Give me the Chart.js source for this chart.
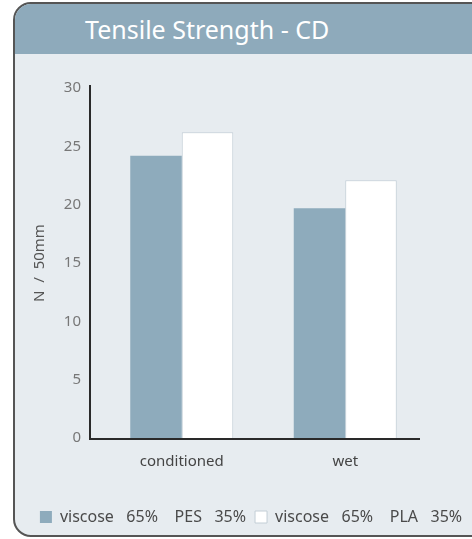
<!DOCTYPE html>
<html>
<head>
<meta charset="utf-8">
<script src="https://cdn.jsdelivr.net/npm/chart.js@4.4.1/dist/chart.umd.min.js"></script>
<style>
  html, body { margin: 0; padding: 0; background: #fff; overflow: hidden; width: 472px; height: 539px; }
  .card {
    position: absolute; left: 13px; top: 2px; width: 480px; height: 531px;
    border: 2px solid #555; border-radius: 18px; background: #e7ecf0; overflow: hidden;
  }
  .card h1 {
    margin: 0; height: 50px; background: #8eaabb; color: #fff;
    font: 400 25px "Noto Sans", sans-serif; line-height: 50px; padding-left: 70px;
  }
  .wrap { position: absolute; left: 0; top: 52px; width: 472px; height: 479px; }
</style>
</head>
<body>
<div class="card">
  <h1>Tensile Strength - CD</h1>
  <div class="wrap"><canvas id="chart"></canvas></div>
</div>
<script>
  // dados
  const categories = ['conditioned', 'wet'];
  const pesValues = [24.2, 19.7];
  const plaValues = [26.2, 22.1];
  const seriesNames = ['viscose   65%    PES   35%', 'viscose   65%    PLA   35%'];
  const yTicks = [0, 5, 10, 15, 20, 25, 30];

  // linhas dos eixos, deslocadas como no original
  const axisLines = {
    id: 'axisLines',
    afterDraw(chart) {
      const { ctx, chartArea } = chart;
      const x0 = chartArea.left - 10;
      ctx.save();
      ctx.strokeStyle = '#2a2a2a';
      ctx.lineWidth = 2;
      ctx.beginPath();
      ctx.moveTo(x0, chartArea.top - 3);
      ctx.lineTo(x0, chartArea.bottom + 1);
      ctx.lineTo(chartArea.right - 7, chartArea.bottom + 1);
      ctx.stroke();
      ctx.restore();
    }
  };

  const ctx = document.getElementById('chart').getContext('2d');
  new Chart(ctx, {
    type: 'bar',
    data: {
      labels: categories,
      datasets: [{
        label: seriesNames[0],
        data: pesValues,
        backgroundColor: '#8eabbc',
        borderWidth: 0
      }, {
        label: seriesNames[1],
        data: plaValues,
        backgroundColor: '#ffffff',
        borderColor: '#c3ced6',
        borderWidth: 1
      }]
    },
    options: {
      responsive: true,
      maintainAspectRatio: false,
      animation: false,
      datasets: {
        bar: { barPercentage: 1, categoryPercentage: 0.63 }
      },
      layout: { padding: { top: 32, bottom: 0 } },
      plugins: {
        legend: {
          position: 'bottom',
          labels: {
            boxWidth: 12,
            boxHeight: 12,
            padding: 9,
            color: '#4a4a4a',
            font: { family: 'Noto Sans', size: 16 }
          }
        },
        tooltip: { enabled: false }
      },
      scales: {
        x: {
          afterFit: function(scale) { scale.height += 22; },
          grid: { display: false },
          border: { display: false },
          ticks: {
            padding: 7,
            color: '#444',
            font: { family: 'Noto Sans', size: 15 }
          }
        },
        y: {
          min: 0,
          max: 30,
          afterFit: function(scale) { scale.width = 85; },
          afterBuildTicks: function(scale) {
            scale.ticks = yTicks.map(v => ({ value: v }));
          },
          grid: { display: false },
          border: { display: false },
          ticks: {
            padding: 11,
            color: '#777',
            font: { family: 'Noto Sans', size: 15 }
          },
          title: {
            display: true,
            text: 'N  /  50mm',
            color: '#555',
            padding: { top: 16, bottom: 0 },
            font: { family: 'Noto Sans', size: 15 }
          }
        },
        // eixo vazio à direita só para reservar espaço
        yRight: {
          position: 'right',
          afterFit: function(scale) { scale.width = 60; },
          grid: { display: false },
          border: { display: false },
          ticks: { display: false }
        }
      }
    },
    plugins: [axisLines]
  });
</script>
</body>
</html>
